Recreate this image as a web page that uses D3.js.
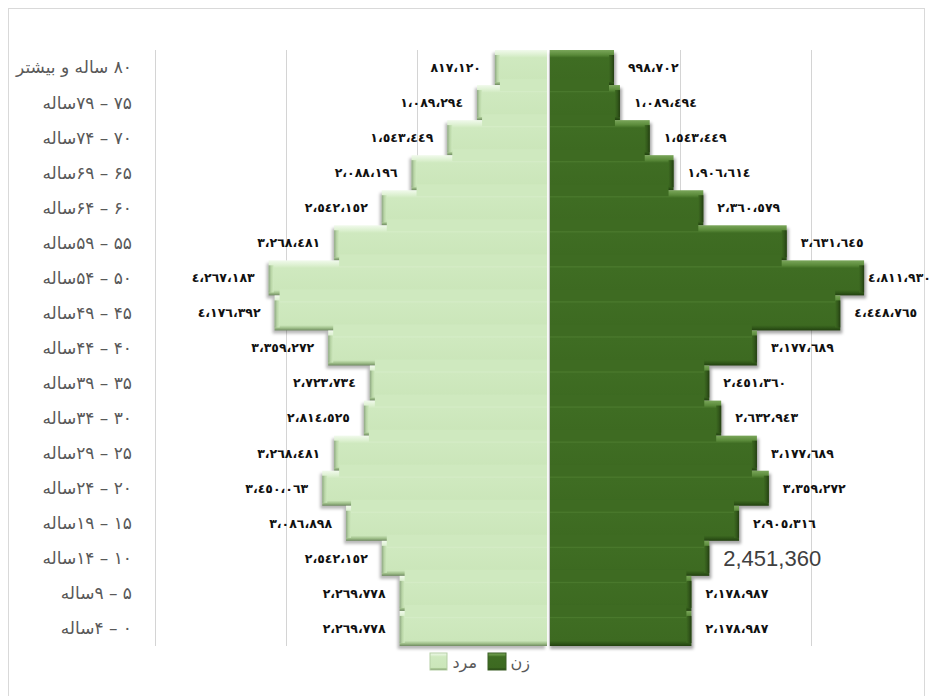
<!DOCTYPE html>
<html>
<head>
<meta charset="utf-8">
<script src="https://cdn.jsdelivr.net/npm/d3@7"></script>
<style>
  body { margin: 0; background: #fff; }
  svg { display: block; }
</style>
</head>
<body>
<svg id="chart" width="933" height="696"></svg>
<script>
(function() {

var ages = ["80+", "75-79", "70-74", "65-69", "60-64", "55-59", "50-54", "45-49", "40-44",
            "35-39", "30-34", "25-29", "20-24", "15-19", "10-14", "5-9", "0-4"];

var ageLabels = ["۸۰ ساله و بیشتر", "۷۵ – ۷۹ساله", "۷۰ – ۷۴ساله", "۶۵ – ۶۹ساله", "۶۰ – ۶۴ساله",
                 "۵۵ – ۵۹ساله", "۵۰ – ۵۴ساله", "۴۵ – ۴۹ساله", "۴۰ – ۴۴ساله", "۳۵ – ۳۹ساله",
                 "۳۰ – ۳۴ساله", "۲۵ – ۲۹ساله", "۲۰ – ۲۴ساله", "۱۵ – ۱۹ساله", "۱۰ – ۱۴ساله",
                 "۵ – ۹ساله", "۰ – ۴ساله"];

var male = [817120, 1089294, 1543449, 2088196, 2542152, 3268481, 4267183, 4176392, 3359272,
            2723734, 2814525, 3268481, 3450063, 3086898, 2542152, 2269778, 2269778];

var female = [998702, 1089494, 1543449, 1906614, 2360579, 3631645, 4811930, 4448765, 3177689,
              2451360, 2632943, 3177689, 3359272, 2905316, 2451360, 2178987, 2178987];

var gridTicks = [-6000000, -4000000, -2000000, 0, 2000000, 4000000, 6000000];

var legendItems = ["مرد", "زن"];

var svg = d3.select("#chart");

var x = d3.scaleLinear().domain([-6000000, 6000000]).range([155, 942]);
var y = d3.scaleBand().domain(ages).range([50, 646]).padding(0);
var x0 = x(0);

var arabicDigits = "٠١٢٣٤٥٦٧٨٩";
function toArabic(v) {
    return d3.format(",")(v).replace(/\d/g, d => arabicDigits[+d]).replace(/,/g, "،");
}

var defs = svg.append("defs");

function vGrad(id, stops) {
    var g = defs.append("linearGradient").attr("id", id)
        .attr("x1", 0).attr("y1", 0).attr("x2", 0).attr("y2", 1);
    stops.forEach(s => g.append("stop").attr("offset", s[0]).attr("stop-color", s[1]));
}
function hGrad(id, stops) {
    var g = defs.append("linearGradient").attr("id", id)
        .attr("x1", 0).attr("y1", 0).attr("x2", 1).attr("y2", 0);
    stops.forEach(s => g.append("stop").attr("offset", s[0]).attr("stop-color", s[1]));
}

vGrad("maleV", [[0, "#f1faec"], [0.14, "#dcf0d0"], [0.22, "#cfe9bf"], [0.85, "#cbe6ba"], [0.93, "#9fbf8a"], [1, "#6f8a60"]]);
vGrad("femaleV", [[0, "#7aa65a"], [0.14, "#5a8a3a"], [0.22, "#3f6d23"], [0.85, "#3d6a21"], [0.93, "#2f5618"], [1, "#22400f"]]);
hGrad("maleH", [[0, "#8fa884"], [0.5, "#b9d6a6"], [1, "#cfe9bf"]]);
hGrad("femaleH", [[0, "#3d6a21"], [0.5, "#33591b"], [1, "#243f12"]]);

var blur = defs.append("filter").attr("id", "shadow")
    .attr("x", "-10%").attr("y", "-20%").attr("width", "130%").attr("height", "150%");
blur.append("feGaussianBlur").attr("stdDeviation", 1.6);

// chart frame
svg.append("rect")
    .attr("x", 8.5).attr("y", 8.5).attr("width", 916).attr("height", 700)
    .attr("fill", "none").attr("stroke", "#d9d9d9");

// gridlines
svg.append("g").selectAll("line")
    .data(gridTicks)
    .join("line")
    .attr("x1", d => Math.round(x(d)) + 0.5)
    .attr("x2", d => Math.round(x(d)) + 0.5)
    .attr("y1", 50).attr("y2", 646)
    .attr("stroke", "#d4d4d4");

var rows = ages.map((a, i) => ({age: a, label: ageLabels[i], m: male[i], f: female[i]}));

// shadows
var shadowG = svg.append("g").attr("filter", "url(#shadow)");
shadowG.selectAll("rect.ms")
    .data(rows)
    .join("rect")
    .attr("class", "ms")
    .attr("x", d => x(-d.m) - 2)
    .attr("y", d => y(d.age) + 3)
    .attr("width", d => x0 - 1.5 - x(-d.m))
    .attr("height", y.bandwidth())
    .attr("fill", "rgba(0,0,0,0.28)");
shadowG.selectAll("rect.fs")
    .data(rows)
    .join("rect")
    .attr("class", "fs")
    .attr("x", x0 + 1.5)
    .attr("y", d => y(d.age) + 3)
    .attr("width", d => x(d.f) - x0 - 1.5 + 2)
    .attr("height", y.bandwidth())
    .attr("fill", "rgba(0,0,0,0.35)");

// bars
var barG = svg.append("g");
barG.selectAll("rect.m")
    .data(rows)
    .join("rect")
    .attr("class", "m")
    .attr("x", d => x(-d.m))
    .attr("y", d => y(d.age))
    .attr("width", d => x0 - 1.5 - x(-d.m))
    .attr("height", y.bandwidth())
    .attr("fill", "url(#maleV)");
barG.selectAll("rect.f")
    .data(rows)
    .join("rect")
    .attr("class", "f")
    .attr("x", x0 + 1.5)
    .attr("y", d => y(d.age))
    .attr("width", d => x(d.f) - x0 - 1.5)
    .attr("height", y.bandwidth())
    .attr("fill", "url(#femaleV)");

// outer bevel edges
barG.selectAll("rect.me")
    .data(rows)
    .join("rect")
    .attr("class", "me")
    .attr("x", d => x(-d.m))
    .attr("y", d => y(d.age) + 5)
    .attr("width", 5)
    .attr("height", y.bandwidth() - 8)
    .attr("fill", "url(#maleH)");
barG.selectAll("rect.fe")
    .data(rows)
    .join("rect")
    .attr("class", "fe")
    .attr("x", d => x(d.f) - 5)
    .attr("y", d => y(d.age) + 5)
    .attr("width", 5)
    .attr("height", y.bandwidth() - 8)
    .attr("fill", "url(#femaleH)");

// hide seams between rows where bars overlap
var seams = rows.slice(0, -1).map((d, i) => ({
    yb: y(d.age) + y.bandwidth(),
    m: Math.min(d.m, rows[i + 1].m),
    f: Math.min(d.f, rows[i + 1].f)
}));
barG.selectAll("rect.msm")
    .data(seams)
    .join("rect")
    .attr("class", "msm")
    .attr("x", d => x(-d.m) + 5)
    .attr("y", d => d.yb - 6)
    .attr("width", d => x0 - 1.5 - x(-d.m) - 5)
    .attr("height", 12)
    .attr("fill", "#cfe9bf");
barG.selectAll("rect.fsm")
    .data(seams)
    .join("rect")
    .attr("class", "fsm")
    .attr("x", x0 + 1.5)
    .attr("y", d => d.yb - 6)
    .attr("width", d => x(d.f) - x0 - 1.5 - 5)
    .attr("height", 12)
    .attr("fill", "#3e6b22");

// category labels
svg.append("g").selectAll("text")
    .data(rows)
    .join("text")
    .attr("x", 132)
    .attr("y", d => y(d.age) + y.bandwidth() / 2)
    .attr("dy", "0.35em")
    .attr("direction", "rtl")
    .attr("text-anchor", "start")
    .attr("font-family", "DejaVu Sans, sans-serif")
    .attr("font-size", 17)
    .attr("fill", "#595959")
    .text(d => d.label);

// value labels
svg.append("g").selectAll("text")
    .data(rows)
    .join("text")
    .attr("x", d => x(-d.m) - 14)
    .attr("y", d => y(d.age) + y.bandwidth() / 2)
    .attr("dy", "0.35em")
    .attr("text-anchor", "end")
    .attr("font-family", "DejaVu Sans, sans-serif")
    .attr("font-weight", "bold")
    .attr("font-size", 12.5)
    .attr("fill", "#111")
    .text(d => toArabic(d.m));

svg.append("g").selectAll("text")
    .data(rows)
    .join("text")
    .attr("x", d => x(d.f) + 14)
    .attr("y", d => y(d.age) + y.bandwidth() / 2)
    .attr("dy", "0.35em")
    .attr("text-anchor", "start")
    .attr("font-family", d => d.age == "10-14" ? "Liberation Sans, Arial, sans-serif" : "DejaVu Sans, sans-serif")
    .attr("font-weight", d => d.age == "10-14" ? "normal" : "bold")
    .attr("font-size", d => d.age == "10-14" ? 22 : 12.5)
    .attr("fill", d => d.age == "10-14" ? "#404040" : "#111")
    .text(d => d.age == "10-14" ? d3.format(",")(d.f) : toArabic(d.f))
    .each(function() {
        // keep labels inside the page
        var t = d3.select(this);
        var over = +t.attr("x") + this.getComputedTextLength() - 931;
        if (over > 0) t.attr("x", +t.attr("x") - over);
    });

// legend
var legend = svg.append("g");
legend.append("rect")
    .attr("x", 430).attr("y", 653).attr("width", 17).attr("height", 17)
    .attr("fill", "url(#maleV)").attr("stroke", "#b5cfa5");
legend.append("text")
    .attr("x", 477).attr("y", 668)
    .attr("text-anchor", "end")
    .attr("font-family", "DejaVu Sans, sans-serif")
    .attr("font-size", 16)
    .attr("fill", "#595959")
    .text(legendItems[0]);
legend.append("rect")
    .attr("x", 488).attr("y", 653).attr("width", 18).attr("height", 17)
    .attr("fill", "url(#femaleV)").attr("stroke", "#3a5f24");
legend.append("text")
    .attr("x", 530).attr("y", 668)
    .attr("text-anchor", "end")
    .attr("font-family", "DejaVu Sans, sans-serif")
    .attr("font-size", 16)
    .attr("fill", "#595959")
    .text(legendItems[1]);

})()
</script>
</body>
</html>
